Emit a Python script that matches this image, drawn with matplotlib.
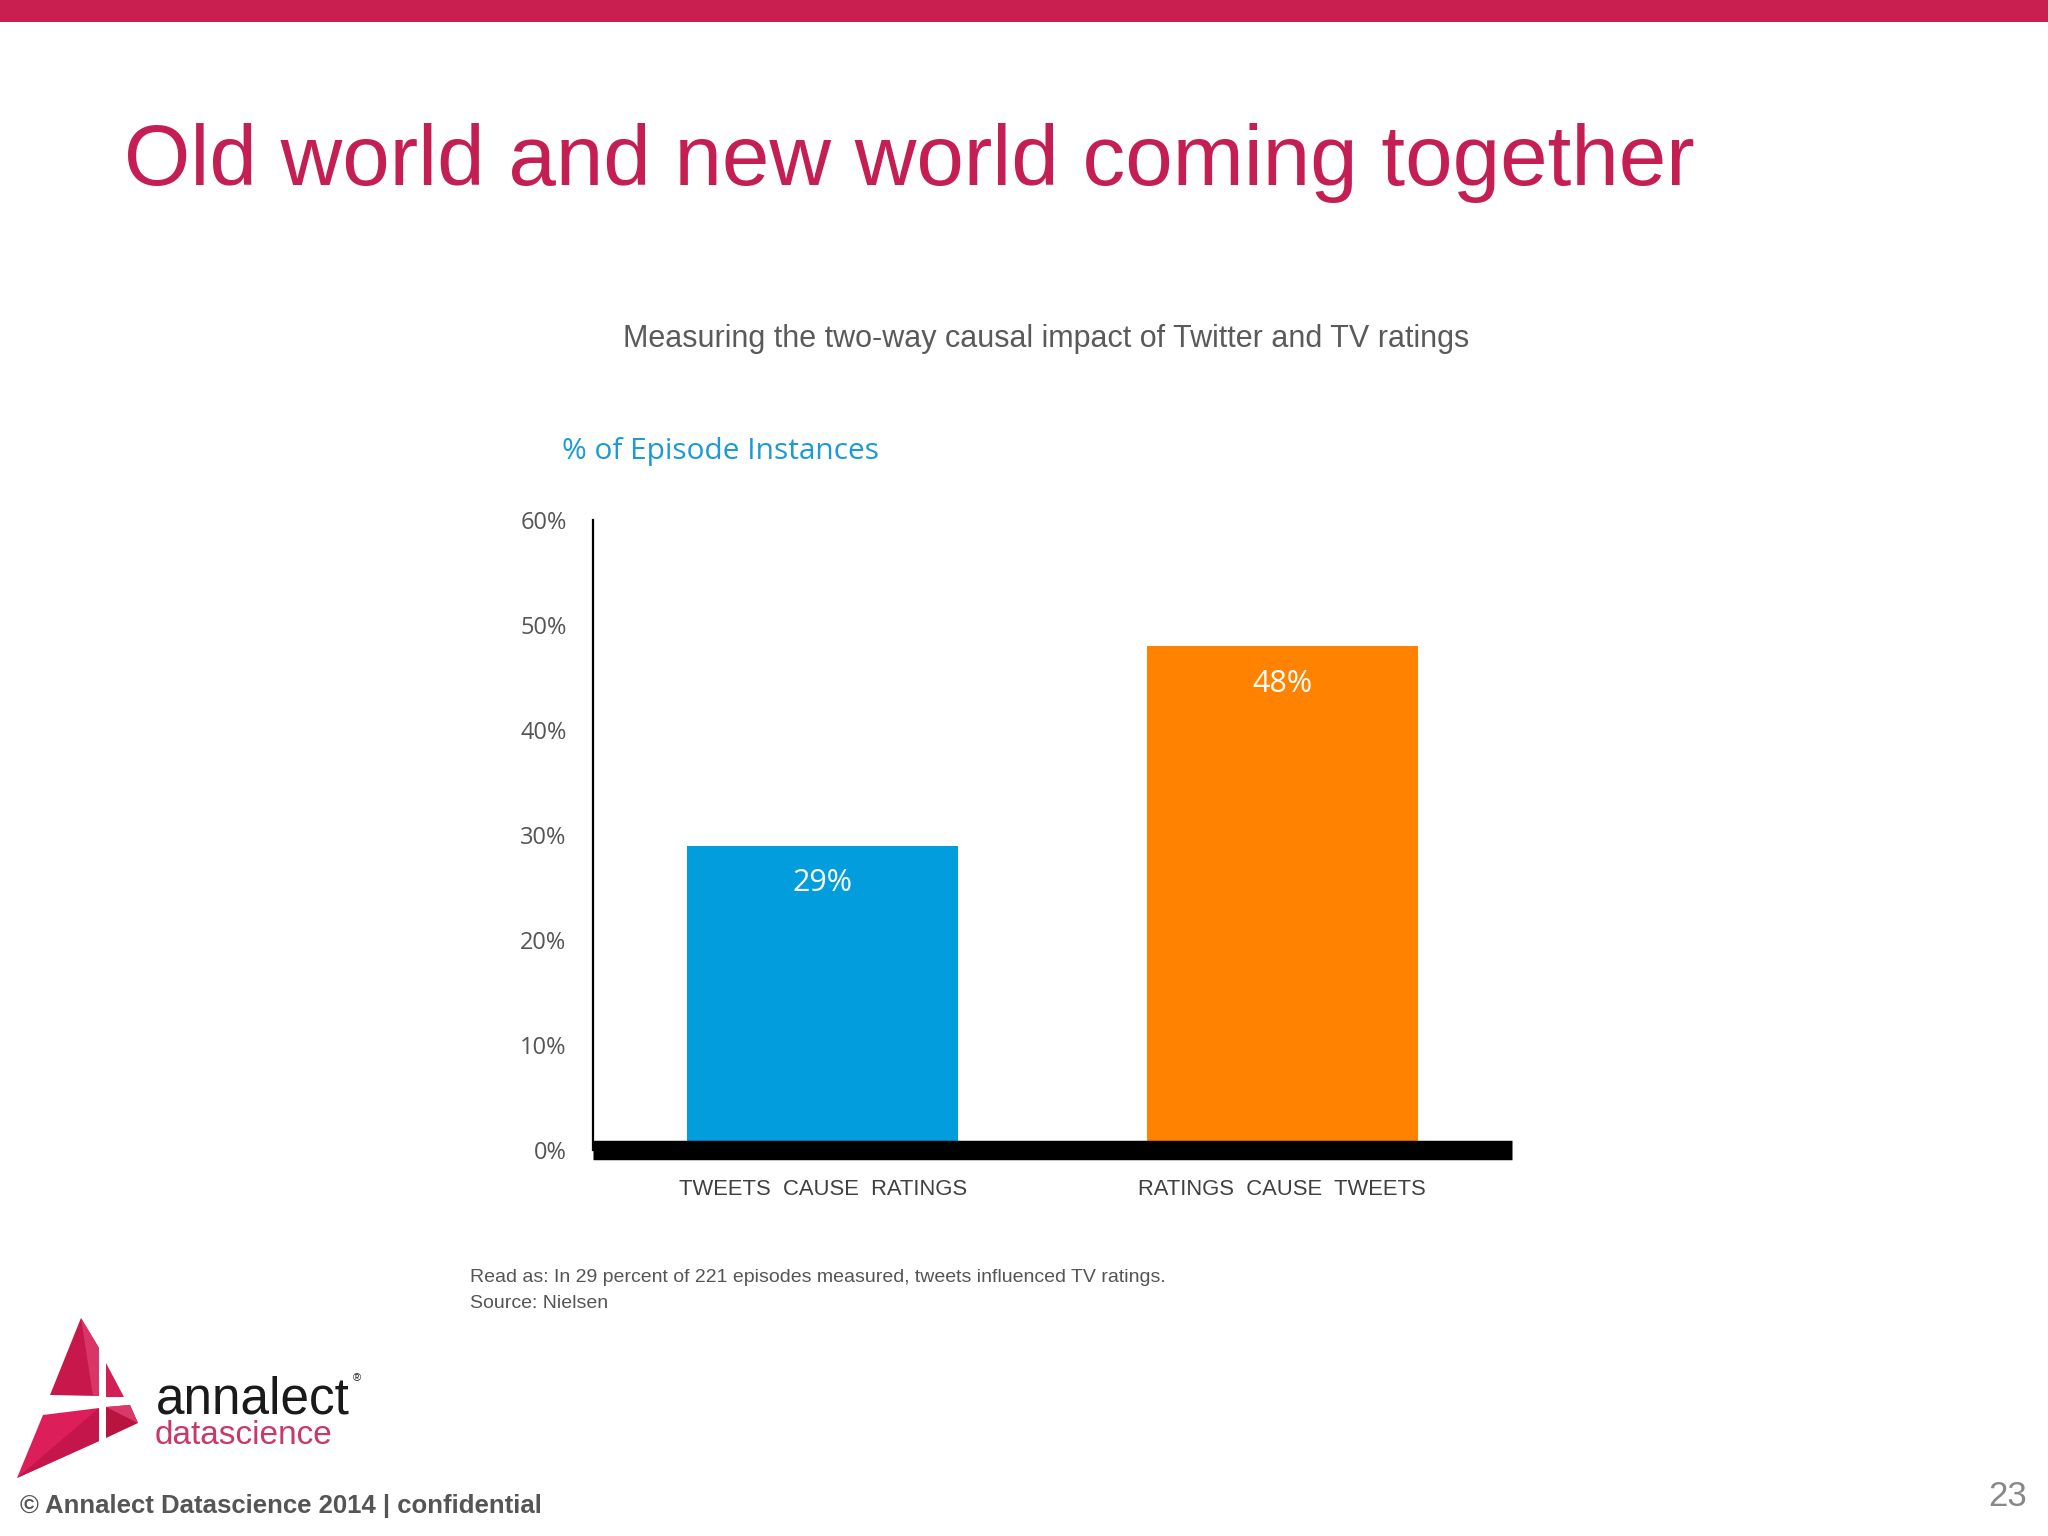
import matplotlib
matplotlib.use("Agg")
import matplotlib.pyplot as plt
from matplotlib.patches import Rectangle, Polygon

# chart data
categories = ["TWEETS  CAUSE  RATINGS", "RATINGS  CAUSE  TWEETS"]
values = [29, 48]
bar_colors = ["#019DDC", "#FF8200"]
yticks = [0, 10, 20, 30, 40, 50, 60]

title = "Old world and new world coming together"
subtitle = "Measuring the two-way causal impact of Twitter and TV ratings"
ylabel = "% of Episode Instances"
footnote = ["Read as: In 29 percent of 221 episodes measured, tweets influenced TV ratings.",
            "Source: Nielsen"]
footer = "\u00a9 Annalect Datascience 2014 | confidential"
page_no = "23"

W, H = 2048, 1536
CRIMSON = "#C81F50"


def px(x, y):
    # pixel coords (from top-left) -> figure fraction
    return x / W, 1 - y / H


fig = plt.figure(figsize=(W / 100, H / 100), dpi=100)
fig.patch.set_facecolor("white")

# top band
fig.add_artist(Rectangle(px(0, 22), 1, 22 / H, transform=fig.transFigure,
                         color=CRIMSON, lw=0))

fig.text(*px(124, 163), title, fontsize=61.5, color="#C41E52",
         family="Liberation Sans", ha="left", va="center")
fig.text(*px(1046, 339), subtitle, fontsize=22, color="#5a5a5a",
         family="Liberation Sans", ha="center", va="center")
fig.text(*px(562, 451), ylabel, fontsize=21.5, color="#1B9AD6",
         family="Open Sans", ha="left", va="center")

# chart
ax = fig.add_axes([593 / W, 1 - 1150 / H, 919 / W, 630 / H])
ax.bar(range(len(values)), values, width=0.59, color=bar_colors, zorder=1)
ax.set_xlim(-0.5, 1.5)
ax.set_ylim(0, 60)
ax.set_yticks(yticks)
ax.set_yticklabels([f"{t}%" for t in yticks], fontsize=17, color="#555555",
                   family="Open Sans")
ax.set_xticks(range(len(categories)))
ax.set_xticklabels(categories, fontsize=15.8, color="#404040",
                   family="Liberation Sans")
ax.tick_params(axis="y", length=0, pad=19)
ax.tick_params(axis="x", length=0, pad=21)
for s in ["top", "right"]:
    ax.spines[s].set_visible(False)
ax.spines["left"].set_linewidth(1.6)
ax.spines["bottom"].set_linewidth(14)
ax.spines["bottom"].set_capstyle("butt")
ax.patch.set_alpha(0)

for i, v in enumerate(values):
    ax.annotate(f"{v}%", (i, v), xytext=(0, -27), textcoords="offset points",
                ha="center", va="center", color="white", fontsize=22,
                family="Open Sans")

fig.text(*px(470, 1278), footnote[0], fontsize=14, color="#555555",
         family="Liberation Sans", ha="left", va="center")
fig.text(*px(470, 1304), footnote[1], fontsize=14, color="#555555",
         family="Liberation Sans", ha="left", va="center")

# logo
logo = [
    ([(81, 1318), (99, 1348), (99, 1396), (50, 1395)], "#C8174A"),
    ([(81, 1318), (99, 1348), (99, 1396), (93, 1396)], "#D93567"),
    ([(106, 1363), (106, 1397), (124, 1397)], "#D21F55"),
    ([(106, 1407), (130, 1405), (138, 1423), (106, 1438)], "#B8143F"),
    ([(106, 1407), (130, 1405), (138, 1423)], "#D8396A"),
    ([(43, 1415), (99, 1408), (99, 1441), (17, 1478)], "#DC1E5A"),
    ([(99, 1408), (99, 1441), (17, 1478)], "#C4164B"),
]
for pts, c in logo:
    fig.add_artist(Polygon([px(x, y) for x, y in pts], closed=True,
                           transform=fig.transFigure, color=c, lw=0))
fig.text(*px(156, 1413), "annalect", fontsize=37, color="#1a1a1a",
         family="Liberation Sans", ha="left", va="baseline")
fig.text(*px(357, 1378), "\u00ae", fontsize=8, color="#1a1a1a",
         family="Liberation Sans", ha="center", va="center")
fig.text(*px(155, 1444), "datascience", fontsize=24, color="#C8386A",
         family="Liberation Sans", ha="left", va="baseline")

fig.text(*px(20, 1506), footer, fontsize=18.5, color="#555555", weight="bold",
         family="Liberation Sans", ha="left", va="center")
fig.text(*px(2027, 1497), page_no, fontsize=25, color="#888888",
         family="Liberation Sans", ha="right", va="center")

fig.savefig("out.png", dpi=100, facecolor="white")
